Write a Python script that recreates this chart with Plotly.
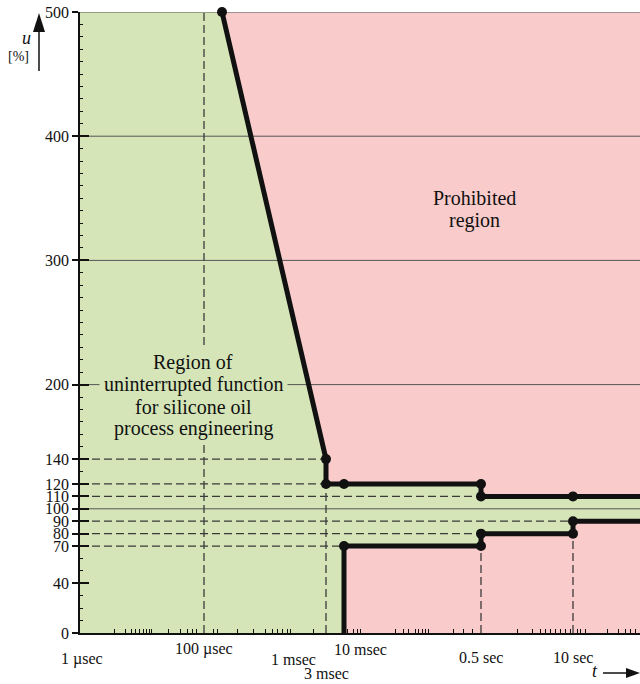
import plotly.graph_objects as go

# ---------------- data (schematic time axis, positions) ----------------
time_labels = ["1 µsec", "100 µsec", "1 msec", "3 msec", "10 msec", "0.5 sec", "10 sec"]
time_pos = [1.5, 124, 213, 246, 264, 401, 493]

u_ticks = [0, 40, 70, 80, 90, 100, 110, 120, 140, 200, 300, 400, 500]
u_grid = [100, 200, 300, 400, 500]

# boundary of the uninterrupted-function region
upper_t = [142, 246, 246, 264, 401, 401, 493, 560]
upper_u = [500, 140, 120, 120, 120, 110, 110, 110]
lower_t = [264, 264, 401, 401, 493, 493, 560]
lower_u = [0, 70, 70, 80, 80, 90, 90]

# dashed guide lines
h_guide_u = [140, 120, 110, 90, 80, 70]
h_guide_to = [246, 246, 401, 493, 401, 264]
v_guide_t = [124, 246, 401, 493]
v_guide_top = [500, 120, 70, 80]

x_minor = [34, 45, 51, 55, 59, 63, 66, 69, 71, 88, 100, 107, 112, 116,
           133, 137, 157, 173, 185, 192, 197, 202, 207, 210, 233,
           267, 273, 277, 280, 315, 323, 328, 335, 338, 342, 345, 348, 373, 383, 392,
           437, 452, 460, 465, 470, 475, 480, 485, 490, 497, 500, 505, 527, 538, 545, 550, 555]
u_minor = [v for v in range(0, 501, 10) if v not in u_ticks]

region_lines = ["Region of", "uninterrupted function", "for silicone oil", "process engineering"]
prohibited_lines = ["Prohibited", "region"]

# ---------------- style ----------------
GREEN = "#d5e5b7"
PINK = "#f9cbcb"
INK = "#111111"
GRID = "#555555"
DASH = "#3a3a3a"
FONT = "Liberation Serif"
W, H = 640, 684
ML, MR, MT, MB = 80, 0, 12, 51
X_MAX = 560

fig = go.Figure()

# green region polygon built from the boundary arrays
poly_x = [0, 0] + upper_t + lower_t[::-1]
poly_u = [0, 500] + upper_u + lower_u[::-1]
fig.add_trace(go.Scatter(x=poly_x, y=poly_u, fill="toself", fillcolor=GREEN,
                         line=dict(width=0), mode="lines", hoverinfo="skip"))

# solid grid lines
for g in u_grid:
    fig.add_trace(go.Scatter(x=[0, X_MAX], y=[g, g], mode="lines",
                             line=dict(color=GRID, width=1), hoverinfo="skip"))

# dashed horizontal guides
for u, t in zip(h_guide_u, h_guide_to):
    fig.add_trace(go.Scatter(x=[0, t], y=[u, u], mode="lines",
                             line=dict(color=DASH, width=1.3, dash="8px,4px"),
                             hoverinfo="skip"))
# dashed vertical guides
for t, top in zip(v_guide_t, v_guide_top):
    fig.add_trace(go.Scatter(x=[t, t], y=[0, top], mode="lines",
                             line=dict(color=DASH, width=1.3, dash="8px,4px"),
                             hoverinfo="skip"))

# boundary lines
fig.add_trace(go.Scatter(x=upper_t, y=upper_u, mode="lines",
                         line=dict(color=INK, width=5), hoverinfo="skip"))
fig.add_trace(go.Scatter(x=lower_t, y=lower_u, mode="lines",
                         line=dict(color=INK, width=5), hoverinfo="skip"))
# dots
fig.add_trace(go.Scatter(x=upper_t[:-1] + lower_t[1:-1], y=upper_u[:-1] + lower_u[1:-1],
                         mode="markers", marker=dict(color=INK, size=10),
                         cliponaxis=False, hoverinfo="skip"))

# invisible trace for second y axis (inner half of the major ticks)
fig.add_trace(go.Scatter(x=[0], y=[0], yaxis="y2", mode="markers",
                         marker=dict(opacity=0), hoverinfo="skip"))

# x major ticks (various lengths) and labels
tick_len = [20, 6, 17, 33, 8, 16, 17]
label_dy = [-26, -16, -26, -40, -16, -24, -24]
label_dx = [0, 0, 0, 0, 16, 0, 0]
shapes = []
annotations = []
for t, lab, ln, dy, dx in zip(time_pos, time_labels, tick_len, label_dy, label_dx):
    shapes.append(dict(type="line", xref="x", yref="y", ysizemode="pixel", yanchor=0,
                       x0=t, x1=t, y0=0, y1=-ln, line=dict(color=INK, width=1.5)))
    annotations.append(dict(x=t, y=0, xref="x", yref="y", text=lab, showarrow=False,
                            xanchor="center", yanchor="middle", yshift=dy, xshift=dx,
                            font=dict(family=FONT, size=16, color=INK)))


def px(xp, yp):
    return (xp - ML) / (W - ML - MR), (H - MB - yp) / (H - MT - MB)


# u axis arrow
x0, y0 = px(39, 71)
x1, y1 = px(39, 30)
shapes.append(dict(type="line", xref="paper", yref="paper", x0=x0, y0=y0, x1=x1, y1=y1,
                   line=dict(color=INK, width=1.5)))
a, b = px(39, 13)
c, d = px(33, 32)
e, f = px(45, 32)
shapes.append(dict(type="path", xref="paper", yref="paper",
                   path=f"M{a},{b} L{c},{d} L{e},{f} Z", fillcolor=INK, line=dict(width=0)))
# t axis arrow
x0, y0 = px(603, 673)
x1, y1 = px(628, 673)
shapes.append(dict(type="line", xref="paper", yref="paper", x0=x0, y0=y0, x1=x1, y1=y1,
                   line=dict(color=INK, width=1.5)))
a, b = px(640, 673)
c, d = px(626, 668)
e, f = px(626, 678)
shapes.append(dict(type="path", xref="paper", yref="paper",
                   path=f"M{a},{b} L{c},{d} L{e},{f} Z", fillcolor=INK, line=dict(width=0)))

for text, (xp, yp), size in [("<i>u</i>", (26, 38), 18), ("[%]", (18, 57), 14),
                             ("<i>t</i>", (595, 671), 18)]:
    ax_, ay_ = px(xp, yp)
    annotations.append(dict(x=ax_, y=ay_, xref="paper", yref="paper", text=text,
                            xanchor="center", yanchor="middle", showarrow=False,
                            font=dict(family=FONT, size=size, color=INK)))

# region texts, one annotation per line (22 px line pitch as in the reference);
# background boxes first, then the text on top so boxes never hide text
for i, line in enumerate(region_lines):
    annotations.append(dict(x=113, y=191, xref="x", yref="y", yshift=-(i - 1.5) * 22,
                            text=line, showarrow=False, bgcolor=GREEN, borderpad=4,
                            font=dict(family=FONT, size=20, color="rgba(0,0,0,0)")))
for i, line in enumerate(region_lines):
    annotations.append(dict(x=113, y=191, xref="x", yref="y", yshift=-(i - 1.5) * 22,
                            text=line, showarrow=False, borderpad=4,
                            font=dict(family=FONT, size=20, color=INK)))
for i, line in enumerate(prohibited_lines):
    annotations.append(dict(x=394, y=341, xref="x", yref="y", yshift=-(i - 0.5) * 22,
                            text=line, showarrow=False,
                            font=dict(family=FONT, size=20, color=INK)))

fig.update_layout(
    width=W, height=H,
    margin=dict(l=ML, r=MR, t=MT, b=MB),
    paper_bgcolor="white", plot_bgcolor=PINK,
    showlegend=False,
    shapes=shapes, annotations=annotations,
    xaxis=dict(range=[0, X_MAX], showgrid=False, zeroline=False, showline=True,
               linecolor=INK, linewidth=1.5, ticks="", showticklabels=False,
               minor=dict(tickmode="array", tickvals=x_minor, ticks="inside",
                          ticklen=4, tickcolor=INK, tickwidth=1, showgrid=False),
               fixedrange=True),
    yaxis=dict(range=[0, 500], showgrid=False, zeroline=False, showline=True,
               linecolor=INK, linewidth=1.5, tickmode="array", tickvals=u_ticks,
               ticktext=[str(v) for v in u_ticks], ticks="outside", ticklen=6,
               tickwidth=1.5, tickcolor=INK,
               tickfont=dict(family=FONT, size=16, color=INK),
               minor=dict(tickmode="array", tickvals=u_minor, ticks="inside",
                          ticklen=3, tickcolor=INK, tickwidth=1, showgrid=False),
               fixedrange=True),
    yaxis2=dict(range=[0, 500], overlaying="y", anchor="x", side="left",
                showgrid=False, zeroline=False, showline=False,
                tickmode="array", tickvals=u_ticks, ticks="inside", ticklen=9,
                tickwidth=1.5, tickcolor=INK, showticklabels=False, fixedrange=True),
)

fig.write_html("out.html", config={"displayModeBar": False},
               post_script="document.body.style.margin='0';document.body.style.overflow='hidden';")
